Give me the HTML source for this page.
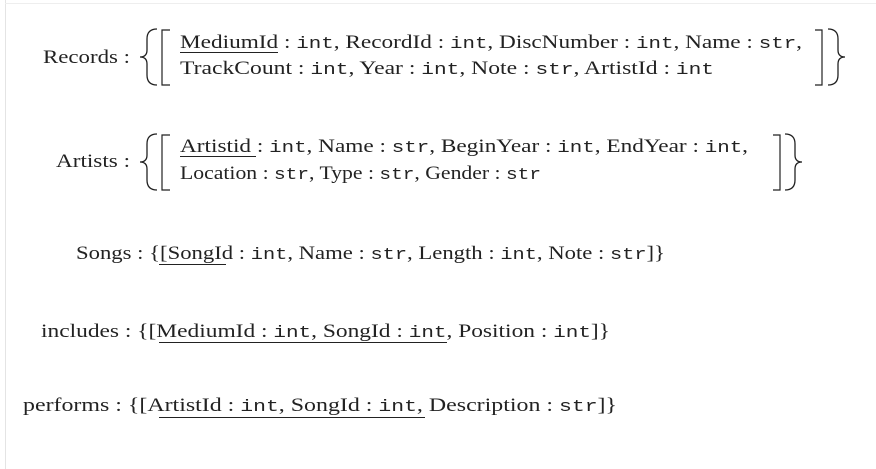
<!DOCTYPE html>
<html><head><style>
html,body{margin:0;padding:0;background:#fff;}
svg{display:block}
text{font-family:"Liberation Serif",serif;font-size:19px;fill:#222}
.m{font-family:"Liberation Mono",monospace;font-size:17px}
path,line{stroke:#222;fill:none}
</style></head><body>
<svg width="876" height="469" viewBox="0 0 876 469">
<rect x="0" y="0" width="876" height="469" fill="#fff"/>
<line x1="5.5" y1="0" x2="5.5" y2="469" style="stroke:#e4e4e4"/>
<line x1="5" y1="3.5" x2="876" y2="3.5" style="stroke:#eee"/>

<!-- Records -->
<text x="43" y="63" textLength="87" lengthAdjust="spacingAndGlyphs">Records :</text>
<path d="M157,29 Q147,29 147,39 L147,50 Q147,57 140,57 Q147,57 147,64 L147,75 Q147,85 157,85" stroke-width="1.3"/>
<path d="M170,30 L162,30 L162,85 L170,85" stroke-width="1.2"/>
<text x="180" y="48" textLength="622" lengthAdjust="spacingAndGlyphs">MediumId : <tspan class="m">int</tspan>, RecordId : <tspan class="m">int</tspan>, DiscNumber : <tspan class="m">int</tspan>, Name : <tspan class="m">str</tspan>,</text>
<line x1="180" y1="52.5" x2="278" y2="52.5" stroke-width="1"/>
<text x="180" y="74" textLength="534" lengthAdjust="spacingAndGlyphs">TrackCount : <tspan class="m">int</tspan>, Year : <tspan class="m">int</tspan>, Note : <tspan class="m">str</tspan>, ArtistId : <tspan class="m">int</tspan></text>
<path d="M815,30 L822,30 L822,85 L815,85" stroke-width="1.2"/>
<path d="M828,29 Q838,29 838,39 L838,50 Q838,57 845,57 Q838,57 838,64 L838,75 Q838,85 828,85" stroke-width="1.3"/>

<!-- Artists -->
<text x="56" y="167" textLength="74" lengthAdjust="spacingAndGlyphs">Artists :</text>
<path d="M157,134 Q147,134 147,144 L147,155 Q147,162 140,162 Q147,162 147,169 L147,180 Q147,190 157,190" stroke-width="1.3"/>
<path d="M170,135 L162,135 L162,190 L170,190" stroke-width="1.2"/>
<text x="180" y="152" textLength="568" lengthAdjust="spacingAndGlyphs">Artistid : <tspan class="m">int</tspan>, Name : <tspan class="m">str</tspan>, BeginYear : <tspan class="m">int</tspan>, EndYear : <tspan class="m">int</tspan>,</text>
<line x1="180" y1="156.5" x2="256" y2="156.5" stroke-width="1"/>
<text x="180" y="179" textLength="361" lengthAdjust="spacingAndGlyphs">Location : <tspan class="m">str</tspan>, Type : <tspan class="m">str</tspan>, Gender : <tspan class="m">str</tspan></text>
<path d="M773,135 L780,135 L780,190 L773,190" stroke-width="1.2"/>
<path d="M785,134 Q795,134 795,144 L795,155 Q795,162 802,162 Q795,162 795,169 L795,180 Q795,190 785,190" stroke-width="1.3"/>

<!-- Songs -->
<text x="76" y="259" textLength="589" lengthAdjust="spacingAndGlyphs">Songs : {[SongId : <tspan class="m">int</tspan>, Name : <tspan class="m">str</tspan>, Length : <tspan class="m">int</tspan>, Note : <tspan class="m">str</tspan>]}</text>
<line x1="159" y1="264.5" x2="226" y2="264.5" stroke-width="1"/>

<!-- includes -->
<text x="41" y="337" textLength="569" lengthAdjust="spacingAndGlyphs">includes : {[MediumId : <tspan class="m">int</tspan>, SongId : <tspan class="m">int</tspan>, Position : <tspan class="m">int</tspan>]}</text>
<line x1="159" y1="342.5" x2="447" y2="342.5" stroke-width="1"/>

<!-- performs -->
<text x="23" y="411" textLength="594" lengthAdjust="spacingAndGlyphs">performs : {[ArtistId : <tspan class="m">int</tspan>, SongId : <tspan class="m">int</tspan>, Description : <tspan class="m">str</tspan>]}</text>
<line x1="159" y1="417.5" x2="425" y2="417.5" stroke-width="1"/>
</svg>
</body></html>
